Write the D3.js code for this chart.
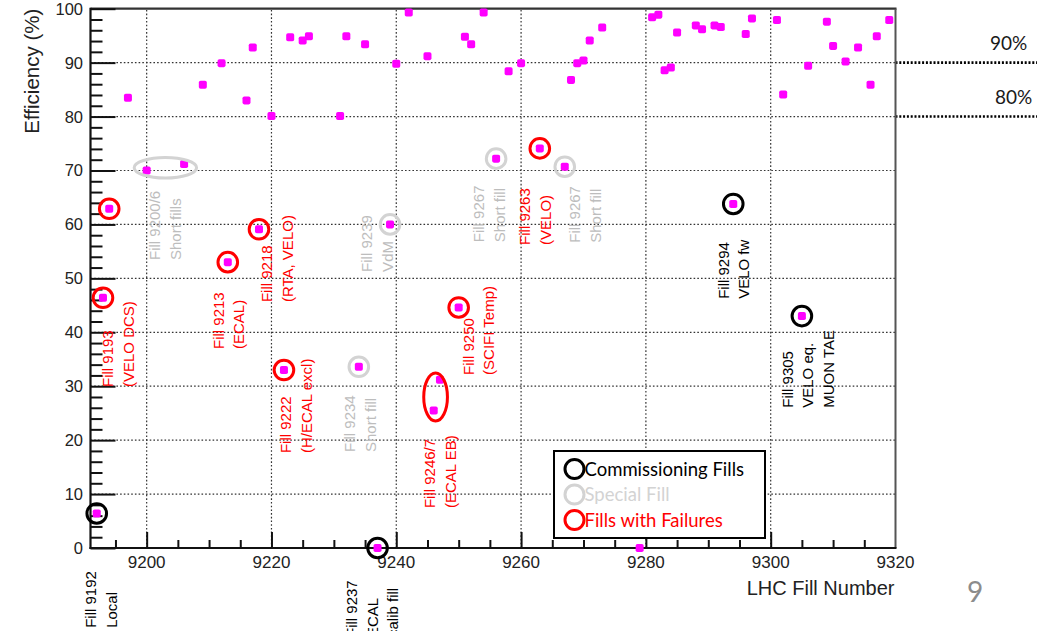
<!DOCTYPE html>
<html>
<head>
<meta charset="utf-8">
<script src="https://cdn.jsdelivr.net/npm/d3@7"></script>
<style>
  html, body { margin: 0; padding: 0; background: #fff; }
  svg { display: block; }
</style>
</head>
<body>
<svg id="chart" width="1037" height="631"></svg>
<script>
// ---------------- DATA ----------------
const fills = [9192, 9193, 9194, 9197, 9200, 9206, 9209, 9212, 9213, 9216, 9217, 9218, 9220, 9222, 9223, 9225, 9226,
  9231, 9232, 9234, 9235, 9237, 9239, 9240, 9242, 9245, 9246, 9247, 9250, 9251, 9252, 9254, 9256, 9258, 9260,
  9263, 9267, 9268, 9269, 9270, 9271, 9273, 9279, 9281, 9282, 9283, 9284, 9285, 9288, 9289, 9291, 9292,
  9294, 9296, 9297, 9301, 9302, 9305, 9306, 9309, 9310, 9312, 9314, 9316, 9317, 9319];
const efficiency = [6.4, 46.4, 62.9, 83.5, 70.0, 71.2, 85.9, 89.9, 53.0, 83.0, 92.8, 59.1, 80.1, 33.0, 94.7, 94.1, 94.9,
  80.1, 94.9, 33.6, 93.4, 0.0, 60.0, 89.8, 99.3, 91.2, 25.5, 31.2, 44.6, 94.8, 93.4, 99.3, 72.2, 88.4, 89.9,
  74.1, 70.7, 86.8, 89.9, 90.4, 94.1, 96.5, 0.0, 98.4, 98.9, 88.6, 89.1, 95.6, 96.9, 96.2, 96.9, 96.6,
  63.8, 95.3, 98.2, 97.9, 84.1, 43.0, 89.4, 97.6, 93.1, 90.2, 92.8, 85.9, 94.9, 97.9];

const commissioningFills = [9192, 9237, 9294, 9305];
const specialFills = [9234, 9239, 9256, 9267];
const failureFills = [9193, 9194, 9213, 9218, 9222, 9250, 9263];

const xMajorTicks = [9200, 9220, 9240, 9260, 9280, 9300, 9320];
const yMajorTicks = [0, 10, 20, 30, 40, 50, 60, 70, 80, 90, 100];
const thresholds = [90, 80];
const thresholdLabels = ["90%", "80%"];

const legendLabels = ["Commissioning Fills", "Special Fill", "Fills with Failures"];

// grouped-fill ellipses: [centre fill, centre eff, half-width in fills, half-height in %]
const groupEllipses = [
  {kind: "special", fill: 9203.0, eff: 70.5, dFill: 5.0, dEff: 1.9},
  {kind: "failure", fill: 9246.3, eff: 28.0, dFill: 1.9, dEff: 4.45}
];

// rotated annotation texts, anchored (bottom of first column) in data units
const annotations = [
  {kind: "comm",    fill: 9191.08, eff: -14.8, lines: ["Fill 9192", "Local"]},
  {kind: "failure", fill: 9193.8,  eff: 29.85, lines: ["Fill 9193", "(VELO DCS)"]},
  {kind: "special", fill: 9201.34, eff: 53.4,  lines: ["Fill 9200/6", "Short fills"]},
  {kind: "failure", fill: 9211.48, eff: 36.9,  lines: ["Fill 9213", "(ECAL)"]},
  {kind: "failure", fill: 9219.24, eff: 45.6,  lines: ["Fill 9218", "(RTA, VELO)"]},
  {kind: "failure", fill: 9222.33, eff: 17.6,  lines: ["Fill 9222", "(H/ECAL excl)"]},
  {kind: "special", fill: 9232.59, eff: 17.8,  lines: ["Fill 9234", "Short fill"]},
  {kind: "comm",    fill: 9232.86, eff: -16.5, lines: ["Fill 9237", "ECAL", "calib fill"]},
  {kind: "special", fill: 9235.26, eff: 51.2,  lines: ["Fill 9239", "VdM"]},
  {kind: "failure", fill: 9245.41, eff: 7.4,   lines: ["Fill 9246/7", "(ECAL EB)"]},
  {kind: "failure", fill: 9251.55, eff: 32.1,  lines: ["Fill 9250", "(SCIFI Temp)"]},
  {kind: "special", fill: 9253.26, eff: 56.7,  lines: ["Fill 9267", "Short fill"]},
  {kind: "failure", fill: 9260.63, eff: 56.2,  lines: ["Fill 9263", "(VELO)"]},
  {kind: "special", fill: 9268.64, eff: 56.6,  lines: ["Fill 9267", "Short fill"]},
  {kind: "comm",    fill: 9292.41, eff: 46.2,  lines: ["Fill 9294", "VELO fw"]},
  {kind: "comm",    fill: 9302.67, eff: 26.0,  lines: ["Fill 9305", "VELO eq.", "MUON TAE"]}
];

// ---------------- STYLE ----------------
const colors = {comm: "#000000", special: "#d3d3d3", failure: "#ff0000"};
const textColors = {comm: "#000000", special: "#bdbdbd", failure: "#ff0000"};
const magenta = "#ff00ff";

const svg = d3.select("#chart");
const x = d3.scaleLinear().domain([9191, 9320]).range([90.5, 895.5]);
const y = d3.scaleLinear().domain([0, 100]).range([548, 8.7]);
const [x0, x1] = x.range();
const [y0, y1] = y.range();

// grid
const grid = svg.append("g").attr("stroke", "#333").attr("stroke-width", 1.2).attr("stroke-dasharray", "1.6,2.1");
grid.selectAll("line.h").data(yMajorTicks.filter(v => v > 0 && v < 100)).join("line")
  .attr("x1", x0).attr("x2", x1).attr("y1", d => y(d)).attr("y2", d => y(d));
grid.selectAll("line.v").data(xMajorTicks.filter(v => v < 9320)).join("line")
  .attr("y1", y0).attr("y2", y1).attr("x1", d => x(d)).attr("x2", d => x(d));

// threshold extension lines
svg.append("g").selectAll("line").data(thresholds).join("line")
  .attr("x1", x1).attr("x2", 1037).attr("y1", d => y(d)).attr("y2", d => y(d))
  .attr("stroke", "#000").attr("stroke-width", 2.6).attr("stroke-dasharray", "2,1.8");
svg.append("g").selectAll("text").data(thresholds).join("text")
  .attr("x", (d, i) => i === 0 ? 990 : 995)
  .attr("y", d => y(d) - 12.5)
  .attr("font-family", "Lato, 'Open Sans', sans-serif").attr("font-size", 19).attr("fill", "#1a1a1a")
  .text((d, i) => thresholdLabels[i]);

// frame
svg.append("line").attr("x1", x0).attr("x2", x1 + 1).attr("y1", y1).attr("y2", y1).attr("stroke", "#333").attr("stroke-width", 2.2);
svg.append("line").attr("x1", x1).attr("x2", x1).attr("y1", y1).attr("y2", y0).attr("stroke", "#555").attr("stroke-width", 2);

// y axis (ticks inside)
const yMinor = d3.range(0, 101, 2).filter(v => v % 10 !== 0);
const yAxisMajor = d3.axisRight(y).tickValues(yMajorTicks).tickSize(25).tickFormat("");
const yAxisMinor = d3.axisRight(y).tickValues(yMinor).tickSize(12).tickFormat("");
const gy = svg.append("g").attr("transform", `translate(${x0},0)`);
gy.call(yAxisMajor);
gy.append("g").call(yAxisMinor);
gy.selectAll(".domain").remove();
gy.selectAll("line").attr("stroke", "#111").attr("stroke-width", 2);
svg.append("line").attr("x1", x0).attr("x2", x0).attr("y1", y1 - 1).attr("y2", y0 + 1).attr("stroke", "#111").attr("stroke-width", 2.2);
svg.append("g").selectAll("text").data(yMajorTicks).join("text")
  .attr("x", 83).attr("y", d => y(d)).attr("dy", "0.36em").attr("text-anchor", "end")
  .attr("font-family", "'Liberation Sans', Arial, sans-serif").attr("font-size", 16.5).attr("fill", "#222")
  .text(d => d);

// x axis (ticks inside)
const xMinor = d3.range(9195, 9320, 5).filter(v => v % 20 !== 0);
const xAxisMajor = d3.axisTop(x).tickValues(xMajorTicks.filter(v => v < 9320)).tickSize(16).tickFormat("");
const xAxisMinor = d3.axisTop(x).tickValues(xMinor).tickSize(8).tickFormat("");
const gx = svg.append("g").attr("transform", `translate(0,${y0})`);
gx.call(xAxisMajor);
gx.append("g").call(xAxisMinor);
gx.selectAll(".domain").remove();
gx.selectAll("line").attr("stroke", "#111").attr("stroke-width", 2);
svg.append("line").attr("x1", x0 - 1).attr("x2", x1 + 1).attr("y1", y0).attr("y2", y0).attr("stroke", "#111").attr("stroke-width", 2.2);
svg.append("g").selectAll("text").data(xMajorTicks).join("text")
  .attr("x", d => x(d)).attr("y", 567.5).attr("text-anchor", "middle")
  .attr("font-family", "'Liberation Sans', Arial, sans-serif").attr("font-size", 17).attr("fill", "#222")
  .text(d => d);

// axis titles
svg.append("text").attr("transform", `translate(39,${y1}) rotate(-90)`).attr("text-anchor", "end")
  .attr("font-family", "'Liberation Sans', Arial, sans-serif").attr("font-size", 20.5).attr("fill", "#222")
  .text("Efficiency (%)");
svg.append("text").attr("x", 894.5).attr("y", 595).attr("text-anchor", "end")
  .attr("font-family", "'Liberation Sans', Arial, sans-serif").attr("font-size", 20).attr("fill", "#222")
  .text("LHC Fill Number");

// data points
const pts = fills.map((f, i) => ({fill: f, eff: efficiency[i]}));
svg.append("g").selectAll("rect").data(pts).join("rect")
  .attr("x", d => x(d.fill) - 4).attr("y", d => y(d.eff) - 4)
  .attr("width", 8).attr("height", 8).attr("rx", 1.8)
  .attr("fill", magenta);

// circles around categorised fills
function ring(list, kind) {
  svg.append("g").selectAll("circle").data(pts.filter(p => list.includes(p.fill))).join("circle")
    .attr("cx", d => x(d.fill)).attr("cy", d => y(d.eff)).attr("r", 9.8)
    .attr("fill", "none").attr("stroke", colors[kind]).attr("stroke-width", 3);
}
ring(commissioningFills, "comm");
ring(specialFills, "special");
ring(failureFills, "failure");

svg.append("g").selectAll("ellipse").data(groupEllipses).join("ellipse")
  .attr("cx", d => x(d.fill)).attr("cy", d => y(d.eff))
  .attr("rx", d => x(d.fill + d.dFill) - x(d.fill))
  .attr("ry", d => y(d.eff - d.dEff) - y(d.eff))
  .attr("fill", "none").attr("stroke", d => colors[d.kind]).attr("stroke-width", 3);

// annotations
const lineGap = 20.5;
const ag = svg.append("g").attr("font-family", "'Liberation Sans', Arial, sans-serif").attr("font-size", 15);
annotations.forEach(a => {
  const ax = x(a.fill), ay = y(a.eff);
  a.lines.forEach((t, i) => {
    ag.append("text")
      .attr("transform", `translate(${ax + i * lineGap},${ay}) rotate(-90)`)
      .attr("dy", "0.36em")
      .attr("fill", textColors[a.kind])
      .text(t);
  });
});

// legend
const lg = svg.append("g");
lg.append("rect").attr("x", 554).attr("y", 451).attr("width", 211).attr("height", 87)
  .attr("fill", "#fff").attr("stroke", "#000").attr("stroke-width", 2);
const legendKinds = ["comm", "special", "failure"];
const legendY = [469, 494.5, 520];
legendKinds.forEach((k, i) => {
  lg.append("circle").attr("cx", 574.5).attr("cy", legendY[i]).attr("r", 9.5)
    .attr("fill", "none").attr("stroke", colors[k]).attr("stroke-width", 3);
  lg.append("text").attr("x", 584.5).attr("y", legendY[i]).attr("dy", "0.36em")
    .attr("font-family", "Lato, 'Open Sans', sans-serif").attr("font-size", 18.5)
    .attr("fill", k === "special" ? "#d3d3d3" : colors[k])
    .text(legendLabels[i]);
});

// page number
svg.append("text").attr("x", 967).attr("y", 602).attr("font-family", "Lato, 'Open Sans', sans-serif")
  .attr("font-size", 28).attr("fill", "#8c8c8c").text("9");
</script>
</body>
</html>
